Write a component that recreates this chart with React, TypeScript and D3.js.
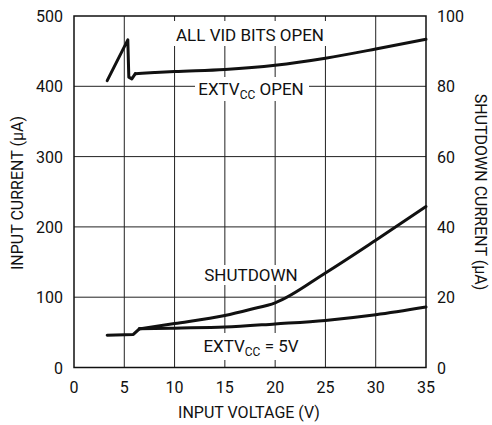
import * as d3 from "d3"

// x axis (V) and tick labels
const xTicks = [0, 5, 10, 15, 20, 25, 30, 35]
const leftTicks = [0, 100, 200, 300, 400, 500]
const rightTicks = [0, 20, 40, 60, 80, 100]

// ALL VID BITS OPEN, EXTVCC OPEN (input current, µA) — spike part then smooth part
const openSpikeV = [3.3, 5.35, 5.45, 5.75, 6.1]
const openSpikeI = [408, 466, 413, 410.5, 418]
const openV = [6.1, 8, 10, 15, 20, 25, 30, 35]
const openI = [418, 419.5, 421, 424, 430, 440, 453, 467]

// common low-voltage segment of the lower curves (input current, µA)
const lowV = [3.3, 5.9, 6.5]
const lowI = [46, 47, 55]

// SHUTDOWN (shutdown current, µA, right axis)
const shdnV = [6.5, 10, 15, 17.5, 20, 25, 30, 35]
const shdnI = [11, 12.5, 14.8, 16.5, 18.4, 26.9, 36.2, 45.8]

// EXTVCC = 5V (input current, µA)
const ext5V = [6.5, 10, 15, 20, 25, 30, 35]
const ext5I = [55, 56, 57.5, 62, 67, 75, 86]

const W = 492
const H = 425
const m = { left: 74, right: 426, top: 16, bottom: 367.5 }
const font = "Roboto, 'Liberation Sans', sans-serif"
const ink = "#111"

export default function App() {
  const x = d3.scaleLinear().domain([0, 35]).range([m.left, m.right])
  const yL = d3.scaleLinear().domain([0, 500]).range([m.bottom, m.top])
  const yR = d3.scaleLinear().domain([0, 100]).range([m.bottom, m.top])

  const zip = (a: number[], b: number[]) => a.map((v, i) => [v, b[i]] as [number, number])

  const lineL = d3.line<[number, number]>().x((d) => x(d[0])).y((d) => yL(d[1])).curve(d3.curveMonotoneX)
  const lineLinear = d3.line<[number, number]>().x((d) => x(d[0])).y((d) => yL(d[1]))
  const lineR = d3.line<[number, number]>().x((d) => x(d[0])).y((d) => yR(d[1])).curve(d3.curveMonotoneX)

  const curve = { fill: "none", stroke: ink, strokeWidth: 3, strokeLinejoin: "round" as const, strokeLinecap: "round" as const }

  return (
    <svg width={W} height={H} style={{ position: "absolute", left: 0, top: 0, background: "#fff" }} fontFamily={font}>
      {/* grid */}
      {xTicks.slice(1, -1).map((t) => (
        <line key={"vx" + t} x1={x(t)} x2={x(t)} y1={m.top} y2={m.bottom} stroke="#222" strokeWidth={1} />
      ))}
      {leftTicks.slice(1, -1).map((t) => (
        <line key={"hy" + t} x1={m.left} x2={m.right} y1={yL(t)} y2={yL(t)} stroke="#222" strokeWidth={1} />
      ))}

      {/* label backgrounds that break the grid */}
      <rect x={168} y={21} width={164} height={25} fill="#fff" />
      <rect x={195} y={77} width={114} height={24} fill="#fff" />
      <rect x={202} y={265} width={98} height={20} fill="#fff" />
      <rect x={201} y={333} width={100} height={27} fill="#fff" />

      {/* curves */}
      <path d={lineLinear(zip(openSpikeV, openSpikeI)) || ""} {...curve} />
      <path d={lineL(zip(openV, openI)) || ""} {...curve} />
      <path d={lineLinear(zip(lowV, lowI)) || ""} {...curve} />
      <path d={lineR(zip(shdnV, shdnI)) || ""} {...curve} />
      <path d={lineL(zip(ext5V, ext5I)) || ""} {...curve} />

      {/* frame */}
      <rect x={m.left} y={m.top} width={m.right - m.left} height={m.bottom - m.top} fill="none" stroke={ink} strokeWidth={1.5} />

      {/* curve labels */}
      <text x={250} y={41} textAnchor="middle" fontSize={17} fill={ink}>ALL VID BITS OPEN</text>
      <text x={251} y={95} textAnchor="middle" fontSize={17} fill={ink}>
        EXTV<tspan fontSize={12} dy={4}>CC</tspan><tspan dy={-4}> OPEN</tspan>
      </text>
      <text x={251} y={281} textAnchor="middle" fontSize={17} fill={ink}>SHUTDOWN</text>
      <text x={251} y={352} textAnchor="middle" fontSize={17} fill={ink}>
        EXTV<tspan fontSize={12} dy={4}>CC</tspan><tspan dy={-4}> = 5V</tspan>
      </text>

      {/* tick labels */}
      {xTicks.map((t) => (
        <text key={"xt" + t} x={x(t)} y={393} textAnchor="middle" fontSize={16} fill={ink}>{t}</text>
      ))}
      {leftTicks.map((t) => (
        <text key={"lt" + t} x={m.left - 11} y={yL(t) + 6} textAnchor="end" fontSize={16} fill={ink}>{t}</text>
      ))}
      {rightTicks.map((t) => (
        <text key={"rt" + t} x={m.right + 11} y={yR(t) + 6} textAnchor="start" fontSize={16} fill={ink}>{t}</text>
      ))}

      {/* axis titles */}
      <text x={249} y={418} textAnchor="middle" fontSize={16} fill={ink}>INPUT VOLTAGE (V)</text>
      <text transform={`translate(23, 193) rotate(-90)`} textAnchor="middle" fontSize={16} fill={ink}>INPUT CURRENT (µA)</text>
      <text transform={`translate(475, 192) rotate(90)`} textAnchor="middle" fontSize={16} fill={ink}>SHUTDOWN CURRENT (µA)</text>
    </svg>
  )
}
